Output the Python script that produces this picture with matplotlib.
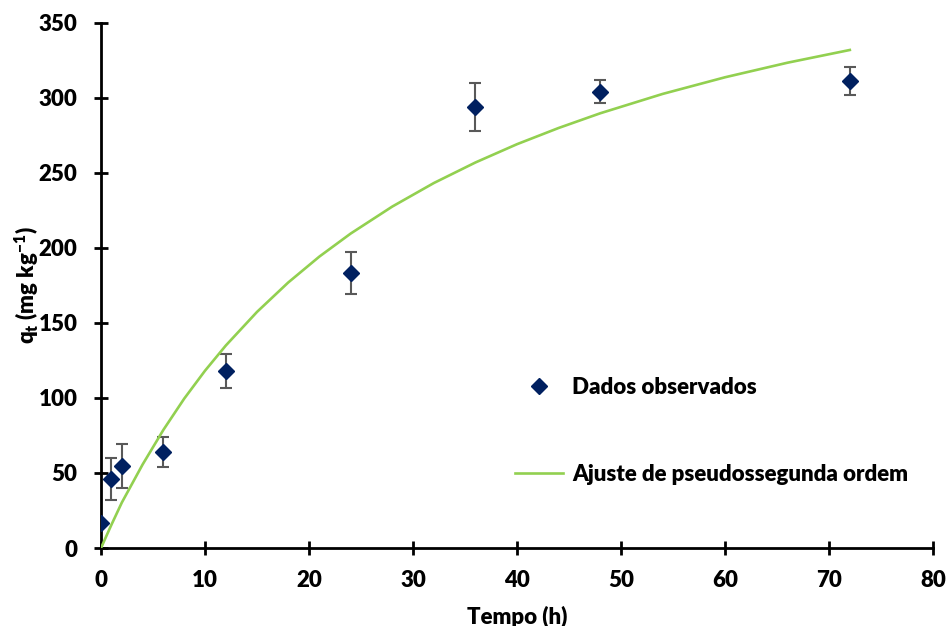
import matplotlib
matplotlib.use("Agg")
import matplotlib.pyplot as plt
from matplotlib.lines import Line2D

plt.rcParams['font.family'] = ['Lato', 'DejaVu Sans']
plt.rcParams['font.weight'] = 'heavy'
plt.rcParams['mathtext.fontset'] = 'custom'
plt.rcParams['mathtext.rm'] = 'Lato:heavy'
plt.rcParams['mathtext.bf'] = 'Lato:heavy'
plt.rcParams['mathtext.it'] = 'Lato:heavy'

# observed data
time_obs = [0, 1, 2, 6, 12, 24, 36, 48, 72]
q_obs = [16.6, 46.3, 54.6, 63.8, 118.0, 183.5, 294.0, 304.3, 311.3]
q_err = [0, 14.0, 14.4, 10.0, 11.5, 14.0, 16.0, 7.5, 9.6]

# pseudo-second-order fit curve
time_fit = [0, 0.5, 1, 2, 3, 4, 6, 8, 10, 12, 15, 18, 21, 24, 28, 32, 36, 40, 44, 48, 54, 60, 66, 72]
q_fit = [0, 7.8, 15.5, 30.3, 43.0, 55.7, 78.8, 99.6, 118.2, 135.0, 157.4, 177.0, 194.3, 209.6,
         227.6, 243.3, 257.0, 269.2, 280.0, 289.8, 302.7, 313.8, 323.5, 332.0]

xticks = [0, 10, 20, 30, 40, 50, 60, 70, 80]
yticks = [0, 50, 100, 150, 200, 250, 300, 350]

navy = '#002060'
green = '#92D050'
grey = '#595959'
FS = 16

fig = plt.figure(figsize=(9.46, 6.26), dpi=100)
ax = fig.add_axes([0.1068, 0.1246, 0.8795, 0.8387])

ax.errorbar(time_obs, q_obs, yerr=q_err, fmt='none', ecolor=grey, elinewidth=1.5,
            capsize=4.3, capthick=1.5, zorder=2)
ax.plot(time_fit, q_fit, color=green, lw=1.9, zorder=3)
ax.plot(time_obs, q_obs, linestyle='none', marker='D', markersize=7.8, color=navy, zorder=4)

ax.set_xlim(0, 80)
ax.set_ylim(0, 350)
ax.set_xticks(xticks)
ax.set_yticks(yticks)
for s in ['top', 'right']:
    ax.spines[s].set_visible(False)
for s in ['left', 'bottom']:
    ax.spines[s].set_linewidth(2.0)
    ax.spines[s].set_color('black')
ax.tick_params(direction='inout', length=10, width=2.0, labelsize=FS)
ax.tick_params(axis='x', pad=11)
ax.tick_params(axis='y', pad=12)
for lab in ax.get_xticklabels() + ax.get_yticklabels():
    lab.set_fontweight('heavy')

ax.set_xlabel('Tempo (h)', fontsize=FS, fontweight='heavy')
ax.set_ylabel(r'$\mathbf{q_t}$ (mg kg$^{\mathbf{-1}}$)', fontsize=FS, fontweight='heavy')
ax.xaxis.set_label_coords(0.5, -0.111)
ax.yaxis.set_label_coords(-0.0716, 0.5)

handles = [Line2D([], [], linestyle='none', marker='D', markersize=7.8, color=navy),
           Line2D([], [], color=green, lw=1.9)]
ax.legend(handles, ['Dados observados', 'Ajuste de pseudossegunda ordem'],
          loc='upper left', bbox_to_anchor=(0.474, 0.364), frameon=False,
          prop={'family': 'Lato', 'weight': 'heavy', 'size': FS},
          labelspacing=2.98, handlelength=2.16, handletextpad=0.4)

fig.savefig('out.png', dpi=100)
